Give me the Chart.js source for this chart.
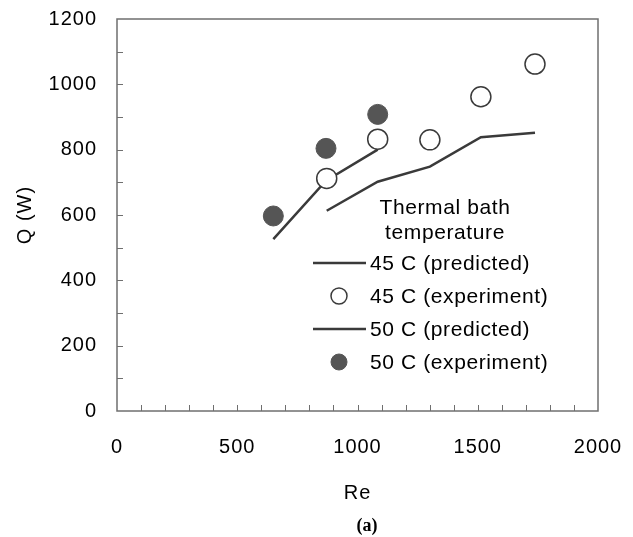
<!DOCTYPE html>
<html><head><meta charset="utf-8">
<script src="https://cdn.jsdelivr.net/npm/chart.js@4/dist/chart.umd.min.js"></script>
<style>html,body{margin:0;padding:0;background:#fff;}</style>
</head><body>
<canvas id="c" width="633" height="537"></canvas>
<script>
// ---- data ----
const re45 = [872, 1084, 1301, 1513, 1738];
const q45Predicted = [613, 702, 748, 838, 852];
const q45Experiment = [712, 832, 830, 962, 1062];
const re50 = [650, 869, 1084];
const q50Predicted = [526, 705, 800];
const q50Experiment = [597, 804, 908];
const xTicks = [0, 500, 1000, 1500, 2000];
const yTicks = [0, 200, 400, 600, 800, 1000, 1200];
const legendTitle = ['Thermal bath', 'temperature'];
const seriesLabels = ['45 C (predicted)', '45 C (experiment)', '50 C (predicted)', '50 C (experiment)'];
const xTitle = 'Re';
const yTitle = 'Q (W)';
const panelLabel = '(a)';

const pts = (xs, ys) => xs.map((x, i) => ({x: x, y: ys[i]}));
const FONT = "'Liberation Sans', Arial, sans-serif";
const INK = '#000';

const datasets = [
  {label: seriesLabels[0], data: pts(re45, q45Predicted), showLine: true, pointRadius: 0,
   borderColor: '#3a3a3a', borderWidth: 2.5, order: 2},
  {label: seriesLabels[1], data: pts(re45, q45Experiment), showLine: false, pointRadius: 10,
   pointBackgroundColor: '#ffffff', pointBorderColor: '#3a3a3a', pointBorderWidth: 1.5, order: 1},
  {label: seriesLabels[2], data: pts(re50, q50Predicted), showLine: true, pointRadius: 0,
   borderColor: '#3a3a3a', borderWidth: 2.5, order: 2},
  {label: seriesLabels[3], data: pts(re50, q50Experiment), showLine: false, pointRadius: 10,
   pointBackgroundColor: '#555555', pointBorderColor: '#555555', pointBorderWidth: 1, order: 1}
];

const zeroPad = s => { s.paddingTop = 0; s.paddingBottom = 0; s.paddingLeft = 0; s.paddingRight = 0; };

const framePlugin = {
  id: 'frame',
  beforeDraw(chart) { chart.ctx.letterSpacing = '1px'; },
  beforeDatasetsDraw(chart) {
    const {ctx, chartArea: a, scales: {x, y}} = chart;
    ctx.save();
    ctx.letterSpacing = '0px';
    ctx.strokeStyle = '#6f6f6f';
    ctx.lineWidth = 1.5;
    ctx.strokeRect(a.left, a.top, a.right - a.left, a.bottom - a.top);
    ctx.lineWidth = 1;
    ctx.beginPath();
    for (let v = 100; v < 2000; v += 100) {
      const px = Math.round(x.getPixelForValue(v)) + 0.5;
      ctx.moveTo(px, a.bottom); ctx.lineTo(px, a.bottom - 6);
    }
    for (let v = 100; v < 1200; v += 100) {
      const py = Math.round(y.getPixelForValue(v)) + 0.5;
      ctx.moveTo(a.left, py); ctx.lineTo(a.left + 6, py);
    }
    ctx.stroke();
    ctx.restore();
  },
  afterDatasetsDraw(chart) {
    const {ctx} = chart;
    ctx.save();
    ctx.fillStyle = INK;
    ctx.font = '21px ' + FONT;
    ctx.letterSpacing = '0.6px';
    ctx.textBaseline = 'middle';
    ctx.textAlign = 'center';
    ctx.fillText(legendTitle[0], 445, 208);
    ctx.fillText(legendTitle[1], 445, 233);
    const rows = [263, 296, 329, 362];
    ctx.textAlign = 'left';
    chart.data.datasets.forEach((ds, i) => {
      const yy = rows[i];
      if (ds.showLine) {
        ctx.strokeStyle = ds.borderColor; ctx.lineWidth = ds.borderWidth;
        ctx.beginPath(); ctx.moveTo(313, yy); ctx.lineTo(366, yy); ctx.stroke();
      } else {
        ctx.beginPath(); ctx.arc(339, yy, 8, 0, Math.PI * 2);
        ctx.fillStyle = ds.pointBackgroundColor; ctx.fill();
        ctx.strokeStyle = ds.pointBorderColor; ctx.lineWidth = ds.pointBorderWidth; ctx.stroke();
      }
      ctx.fillStyle = INK;
      ctx.fillText(ds.label, 370, yy + 1);
    });
    ctx.restore();
  },
  afterDraw(chart) {
    const ctx = chart.ctx;
    ctx.save();
    ctx.letterSpacing = '0px';
    ctx.fillStyle = INK;
    ctx.font = "bold 18px 'Liberation Serif', 'Times New Roman', serif";
    ctx.textAlign = 'center';
    ctx.textBaseline = 'middle';
    ctx.fillText(panelLabel, 367, 526);
    ctx.restore();
    ctx.letterSpacing = '0px';
  }
};

new Chart(document.getElementById('c'), {
  type: 'scatter',
  data: {datasets: datasets},
  options: {
    responsive: false,
    animation: false,
    devicePixelRatio: 1,
    layout: {padding: {top: 19, right: 35, bottom: 30, left: 0}},
    plugins: {legend: {display: false}, tooltip: {enabled: false}},
    scales: {
      x: {
        type: 'linear', min: 0, max: 2000,
        afterBuildTicks: s => { s.ticks = xTicks.map(v => ({value: v})); },
        afterFit: s => { s.height = 96; zeroPad(s); },
        grid: {display: false, drawTicks: false},
        border: {display: false},
        ticks: {color: INK, font: {family: FONT, size: 20}, padding: 24, maxRotation: 0, autoSkip: false,
                callback: v => String(v)},
        title: {display: true, text: xTitle, color: INK, font: {family: FONT, size: 20}, padding: {top: 0, bottom: 2}}
      },
      y: {
        type: 'linear', min: 0, max: 1200,
        afterBuildTicks: s => { s.ticks = yTicks.map(v => ({value: v})); },
        afterFit: s => { s.width = 117; zeroPad(s); },
        grid: {display: false, drawTicks: false},
        border: {display: false},
        ticks: {color: INK, font: {family: FONT, size: 20}, padding: 20, autoSkip: false,
                callback: v => String(v)},
        title: {display: true, text: yTitle, color: INK, font: {family: FONT, size: 20}, padding: {top: 13, bottom: 0}}
      }
    }
  },
  plugins: [framePlugin]
});
</script>
</body></html>
